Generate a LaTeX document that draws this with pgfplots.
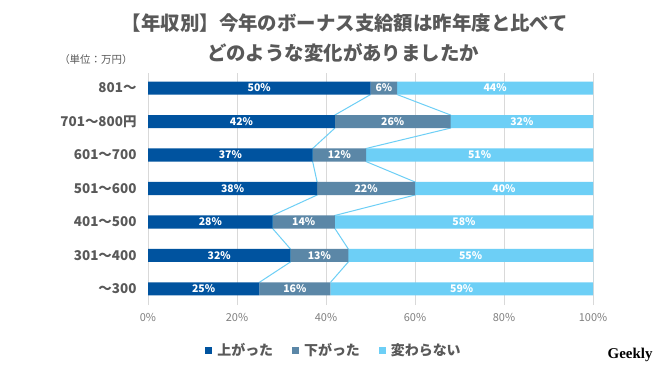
\documentclass[border=0pt]{standalone}
\usepackage{fontspec}
\setmainfont{Noto Sans CJK JP}
\newfontfamily\logofont{Liberation Serif}
\usepackage{pgfplots}
\usepackage{pgfplotstable}
\pgfplotsset{compat=1.18}
\definecolor{cUp}{HTML}{00539F}
\definecolor{cDown}{HTML}{5B87A7}
\definecolor{cSame}{HTML}{6DCFF6}
\definecolor{cLine}{HTML}{6DCFF6}
\definecolor{cGrid}{HTML}{D9D9D9}
\definecolor{cText}{HTML}{595959}
\definecolor{cTick}{HTML}{808080}

\pgfplotstableread{
y up down same
0 25 16 59
1 32 13 55
2 28 14 58
3 38 22 40
4 37 12 51
5 42 26 32
6 50 6 44
}\data

\begin{document}
\begin{tikzpicture}[x=1bp,y=1bp]
\path[use as bounding box, fill=white] (0,0) rectangle (660,371);
\pgfplotsset{base/.style={
  scale only axis, width=445bp, height=232bp,
  at={(148bp,66bp)}, anchor=south west,
  xmin=0, xmax=100, ymin=-0.48, ymax=6.45,
}}
% grid, tick labels, series lines
\begin{axis}[base,
  axis line style={draw=none}, tick style={draw=none},
  xtick={0,20,...,100}, xticklabels={0\%,20\%,40\%,60\%,80\%,100\%},
  xmajorgrids, major grid style={cGrid, line width=0.9bp},
  xticklabel style={font=\fontsize{11}{13}\selectfont, text=cTick, yshift=-5bp},
  ytick={0,...,6},
  yticklabels={〜300,301〜400,401〜500,501〜600,601〜700,701〜800円,801〜},
  yticklabel style={font=\fontsize{13.5}{16}\selectfont\bfseries, text=cText, xshift=-8bp},
]
\addplot[cLine, line width=1bp] coordinates {(50,5.805)(42,5.195)(42,4.805)(37,4.195)(37,3.805)(38,3.195)(38,2.805)(28,2.195)(28,1.805)(32,1.195)(32,0.805)(25,0.195)};
\addplot[cLine, line width=1bp] coordinates {(56,5.805)(68,5.195)(68,4.805)(49,4.195)(49,3.805)(60,3.195)(60,2.805)(42,2.195)(42,1.805)(45,1.195)(45,0.805)(41,0.195)};
\addplot[cLine, line width=1bp] coordinates {(100,5.805)(100,0.195)};
\end{axis}
% stacked bars + legend
\begin{axis}[base, hide axis, xbar stacked, bar width=0.39,
  legend columns=3,
  legend style={at={(0.418,-0.194)}, anchor=center, draw=none, fill=none,
    font=\fontsize{14}{16}\selectfont\bfseries, text=cText,
    inner sep=0pt,
    /tikz/every odd column/.append style={column sep=3bp},
    /tikz/every even column/.append style={column sep=17bp}},
  legend image code/.code={\fill[#1] (0bp,-3.5bp) rectangle (7bp,3.5bp);},
]
\addplot[fill=cUp, draw=none] table[x=up, y=y]{\data};
\addplot[fill=cDown, draw=none] table[x=down, y=y]{\data};
\addplot[fill=cSame, draw=none] table[x=same, y=y]{\data};
\legend{上がった,下がった,変わらない}
\end{axis}
% data labels
\begin{axis}[base, hide axis,
  /pgf/number format/assume math mode=true,
  point meta=explicit,
  nodes near coords={\pgfmathprintnumber{\pgfplotspointmeta}\%},
  every node near coord/.append style={anchor=center, text=white,
    font=\fontsize{10.5}{12}\selectfont\bfseries},
]
\addplot[draw=none, mark=none] table[x expr=\thisrow{up}/2, y=y, meta=up]{\data};
\addplot[draw=none, mark=none] table[x expr=\thisrow{up}+\thisrow{down}/2, y=y, meta=down]{\data};
\addplot[draw=none, mark=none] table[x expr=\thisrow{up}+\thisrow{down}+\thisrow{same}/2, y=y, meta=same]{\data};
\end{axis}
% titles
\node[font=\fontsize{19.5}{22}\selectfont\bfseries, text=cText] at (345,348) {【年収別】今年のボーナス支給額は昨年度と比べて};
\node[font=\fontsize{19.5}{22}\selectfont\bfseries, text=cText] at (343,318) {どのような変化がありましたか};
\node[font=\fontsize{10.5}{12}\selectfont, text=cText, anchor=east] at (136,311) {（単位：万円）};
\node[font=\logofont\fontsize{15}{17}\selectfont\bfseries, anchor=east] at (656,16) {Geekly};
\end{tikzpicture}
\end{document}
